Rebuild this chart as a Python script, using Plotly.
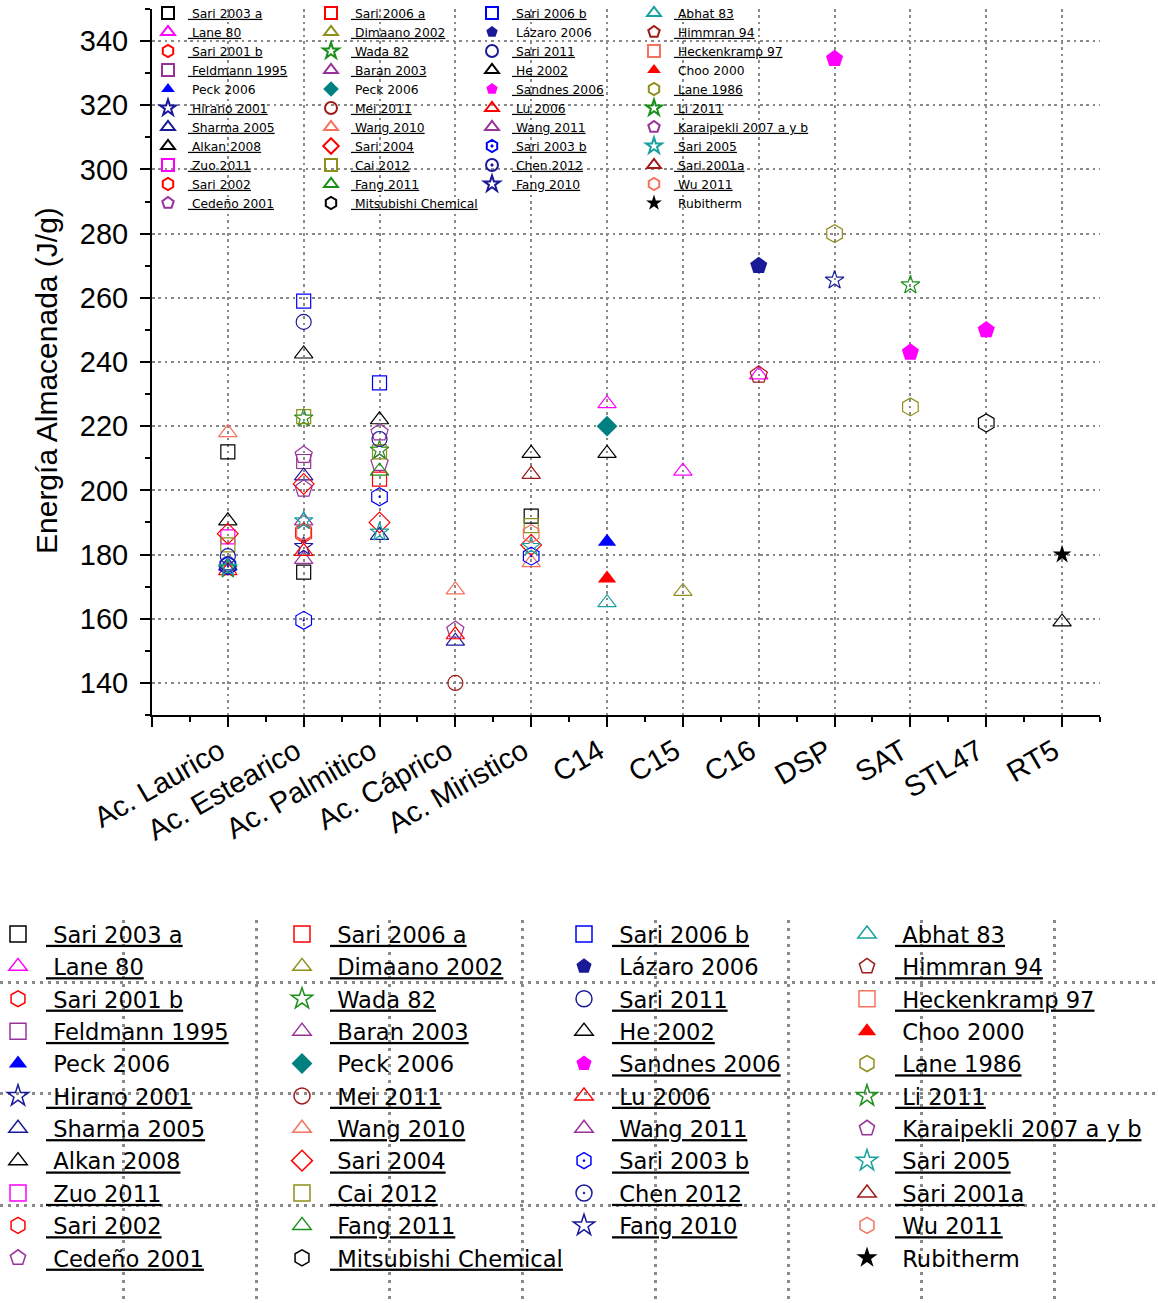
import plotly.graph_objects as go

# ---------------- data ----------------
categories = ["Ac. Laurico", "Ac. Estearico", "Ac. Palmitico", "Ac. Cáprico", "Ac. Miristico",
              "C14", "C15", "C16", "DSP", "SAT", "STL47", "RT5"]

sari_2003_a = {"Ac. Laurico": 212, "Ac. Estearico": 174.5, "Ac. Miristico": 192}
lane_80 = {"C14": 227, "C15": 206, "C16": 236}
sari_2001_b = {"Ac. Estearico": 187}
feldmann_1995 = {"Ac. Estearico": 209}
peck_2006_a = {"C14": 184}
hirano_2001 = {"Ac. Estearico": 182.5}
sharma_2005 = {"Ac. Laurico": 176.5, "Ac. Estearico": 204.5, "Ac. Palmitico": 186, "Ac. Cáprico": 153}
alkan_2008 = {"Ac. Laurico": 190.5, "Ac. Estearico": 242.5, "Ac. Palmitico": 222, "Ac. Miristico": 211.5}
zuo_2011 = {"Ac. Laurico": 185.5}
sari_2002 = {"Ac. Estearico": 186.5}
cedeno_2001 = {"Ac. Estearico": 211, "Ac. Palmitico": 208.5, "Ac. Cáprico": 156.5}
sari_2006_a = {"Ac. Palmitico": 203.5}
dimaano_2002 = {"C15": 168.5}
wada_82 = {"Ac. Laurico": 175.5, "Ac. Estearico": 222.5, "Ac. Palmitico": 212.5}
baran_2003 = {"Ac. Estearico": 178.5}
peck_2006_b = {"C14": 220}
mei_2011 = {"Ac. Cáprico": 140}
wang_2010 = {"Ac. Laurico": 218, "Ac. Cáprico": 169, "Ac. Miristico": 177.5}
sari_2004 = {"Ac. Laurico": 186.5, "Ac. Estearico": 202, "Ac. Palmitico": 190, "Ac. Miristico": 183}
cai_2012 = {"Ac. Laurico": 183, "Ac. Estearico": 223, "Ac. Palmitico": 212, "Ac. Miristico": 189}
fang_2011 = {"Ac. Palmitico": 206}
mitsubishi = {"STL47": 221}
sari_2006_b = {"Ac. Estearico": 259, "Ac. Palmitico": 233.5}
lazaro_2006 = {"C16": 270}
sari_2011 = {"Ac. Laurico": 179.5, "Ac. Estearico": 252.5, "Ac. Palmitico": 216}
he_2002 = {"C14": 211.5, "RT5": 159}
sandnes_2006 = {"DSP": 334.5, "SAT": 243, "STL47": 250}
lu_2006 = {"Ac. Laurico": 175, "Ac. Estearico": 181, "Ac. Cáprico": 155}
wang_2011 = {"Ac. Estearico": 190.5}
sari_2003_b = {"Ac. Laurico": 176.5, "Ac. Estearico": 159.5, "Ac. Palmitico": 198, "Ac. Miristico": 179.5}
chen_2012 = {"Ac. Laurico": 177}
fang_2010 = {"DSP": 265.5}
abhat_83 = {"C14": 165}
himmran_94 = {"C16": 236}
heckenkramp_97 = {"Ac. Estearico": 187}
choo_2000 = {"C14": 172.5}
lane_1986 = {"DSP": 280, "SAT": 226}
li_2011 = {"SAT": 264}
karaipekli_2007 = {"Ac. Estearico": 200.5, "Ac. Palmitico": 218}
sari_2005 = {"Ac. Laurico": 176, "Ac. Estearico": 190.5, "Ac. Palmitico": 187, "Ac. Miristico": 182.5}
sari_2001a = {"Ac. Miristico": 205}
wu_2011 = {"Ac. Miristico": 186.5}
rubitherm = {"RT5": 180}

series_names = [
    "Sari 2003 a", "Lane 80", "Sari 2001 b", "Feldmann 1995", "Peck 2006", "Hirano 2001",
    "Sharma 2005", "Alkan 2008", "Zuo 2011", "Sari 2002", "Cedeño 2001",
    "Sari 2006 a", "Dimaano 2002", "Wada 82", "Baran 2003", "Peck 2006", "Mei 2011",
    "Wang 2010", "Sari 2004", "Cai 2012", "Fang 2011", "Mitsubishi Chemical",
    "Sari 2006 b", "Lázaro 2006", "Sari 2011", "He 2002", "Sandnes 2006", "Lu 2006",
    "Wang 2011", "Sari 2003 b", "Chen 2012", "Fang 2010",
    "Abhat 83", "Himmran 94", "Heckenkramp 97", "Choo 2000", "Lane 1986", "Li 2011",
    "Karaipekli 2007 a y b", "Sari 2005", "Sari 2001a", "Wu 2011", "Rubitherm",
]
series_values = [
    sari_2003_a, lane_80, sari_2001_b, feldmann_1995, peck_2006_a, hirano_2001,
    sharma_2005, alkan_2008, zuo_2011, sari_2002, cedeno_2001,
    sari_2006_a, dimaano_2002, wada_82, baran_2003, peck_2006_b, mei_2011,
    wang_2010, sari_2004, cai_2012, fang_2011, mitsubishi,
    sari_2006_b, lazaro_2006, sari_2011, he_2002, sandnes_2006, lu_2006,
    wang_2011, sari_2003_b, chen_2012, fang_2010,
    abhat_83, himmran_94, heckenkramp_97, choo_2000, lane_1986, li_2011,
    karaipekli_2007, sari_2005, sari_2001a, wu_2011, rubitherm,
]
column_counts = [11, 11, 10, 11]

# ---------------- styles ----------------
BLACK, MAGENTA, RED, PURPLE = "#000000", "#FF00FF", "#FF0000", "#993399"
BLUE, NAVY, OLIVE, GREEN = "#0000FF", "#1A1A99", "#8F8F1A", "#1A901A"
TEAL, WINE, SALMON, LTEAL = "#008080", "#A01A1A", "#F4725E", "#1AA0A0"

symbols = [
    "square-open", "triangle-up-open", "hexagon-open", "square-open", "triangle-up", "star-open",
    "triangle-up-open", "triangle-up-open", "square-open", "hexagon-open", "pentagon-open",
    "square-open", "triangle-up-open", "star-open", "triangle-up-open", "diamond", "circle-open",
    "triangle-up-open", "diamond-open", "square-open", "triangle-up-open", "hexagon-open",
    "square-open", "pentagon", "circle-open", "triangle-up-open", "pentagon", "triangle-up-open",
    "triangle-up-open", "hexagon-open-dot", "circle-open-dot", "star-open",
    "triangle-up-open", "pentagon-open", "square-open", "triangle-up", "hexagon-open", "star-open",
    "pentagon-open", "star-open", "triangle-up-open", "hexagon-open", "star",
]
colors = [
    BLACK, MAGENTA, RED, PURPLE, BLUE, NAVY, NAVY, BLACK, MAGENTA, RED, PURPLE,
    RED, OLIVE, GREEN, PURPLE, TEAL, WINE, SALMON, RED, OLIVE, GREEN, BLACK,
    BLUE, NAVY, NAVY, BLACK, MAGENTA, RED, PURPLE, BLUE, NAVY, NAVY,
    LTEAL, WINE, SALMON, RED, OLIVE, GREEN, PURPLE, LTEAL, WINE, SALMON, BLACK,
]
not_underlined = {4, 15, 23, 35, 42}
base_size = {"square": 14, "triangle-up": 16, "hexagon": 18, "pentagon": 18,
             "star": 14, "circle": 15, "diamond": 16}

FONT = "Liberation Sans, Arial, sans-serif"
LEG_FONT = "DejaVu Sans, Liberation Sans, sans-serif"
W, H = 1158, 1303

fig = go.Figure()

col_of = []
for c, n in enumerate(column_counts):
    col_of += [c] * n

for i, (name, vals) in enumerate(zip(series_names, series_values)):
    xs = [categories.index(c) for c in vals]
    ys = list(vals.values())
    sym = symbols[i]
    base = sym.replace("-open-dot", "").replace("-open", "")
    is_open = "open" in sym
    label = ("\u00a0" + name) if i in not_underlined else ("<u>\u00a0" + name + "</u>")
    col = col_of[i]
    for dup in (False, True):
        marker = dict(symbol=sym, color=colors[i],
                      size=(24 if dup else base_size[base]),
                      line=dict(color=colors[i], width=(1.5 if dup else 1.2) if is_open else 0))
        fig.add_trace(go.Scatter(
            x=xs, y=ys, mode="markers", name=label, marker=marker,
            xaxis="x2" if dup else "x", yaxis="y2" if dup else "y",
            legend=("legend%d" % (col + 5)) if dup else ("legend" if col == 0 else "legend%d" % (col + 1)),
            hoverinfo="skip" if dup else None,
        ))

grid_dash = "2.5px,3.9px"
grid_col = "#8a8a8a"

layout = dict(
    width=W, height=H,
    margin=dict(l=0, r=0, t=0, b=0, autoexpand=False),
    paper_bgcolor="white", plot_bgcolor="white",
    font=dict(family=FONT, color="black"),
    xaxis=dict(
        domain=[152 / W, 1100 / W], range=[-1, 11.5],
        tickmode="array", tickvals=list(range(-1, 12)), ticktext=[""] + categories,
        tickangle=-30, tickfont=dict(size=29, family=FONT, color="black"),
        ticks="outside", ticklen=10, tickwidth=2, tickcolor="black",
        ticklabelshift=-8, ticklabelstandoff=-4,
        minor=dict(tick0=-0.5, dtick=1, ticks="outside", ticklen=5, tickwidth=2, tickcolor="black"),
        showline=True, linecolor="black", linewidth=2,
        showgrid=True, gridcolor=grid_col, gridwidth=2, griddash=grid_dash,
        zeroline=False, anchor="y", fixedrange=True,
    ),
    yaxis=dict(
        domain=[(H - 715) / H, (H - 9) / H], range=[130, 350],
        tick0=0, dtick=20, tickfont=dict(size=29, family=FONT, color="black"),
        ticks="outside", ticklen=10, tickwidth=2, tickcolor="black", ticklabelstandoff=6,
        minor=dict(tick0=0, dtick=10, ticks="outside", ticklen=5, tickwidth=2, tickcolor="black"),
        showline=True, linecolor="black", linewidth=2,
        showgrid=True, gridcolor=grid_col, gridwidth=2, griddash=grid_dash,
        zeroline=False, anchor="x", fixedrange=True,
    ),
    xaxis2=dict(
        domain=[0, 1], range=[0, W], anchor="y2",
        tick0=123, dtick=133, showticklabels=False, ticks="",
        showgrid=True, gridcolor=grid_col, gridwidth=3, griddash="3px,5px",
        zeroline=False, showline=False, fixedrange=True,
    ),
    yaxis2=dict(
        domain=[0, (H - 920) / H], range=[H, 920], anchor="x2",
        tick0=982, dtick=111.5, showticklabels=False, ticks="",
        showgrid=True, gridcolor=grid_col, gridwidth=3, griddash="3px,5px",
        zeroline=False, showline=False, fixedrange=True,
    ),
    annotations=[dict(
        text="Energía Almacenada (J/g)", textangle=-90, showarrow=False,
        xref="paper", yref="paper", x=46 / W, y=(H - 381) / H,
        xanchor="center", yanchor="middle", font=dict(size=30, family=FONT, color="black"),
    )],
)

top_left = [148, 311, 472, 634]
bottom_left = [-10, 274, 556, 839]
for k in range(4):
    key = "legend" if k == 0 else "legend%d" % (k + 1)
    layout[key] = dict(
        x=top_left[k] / W, y=(H + 1.5) / H, xanchor="left", yanchor="top",
        bgcolor="rgba(0,0,0,0)", borderwidth=0, orientation="v",
        font=dict(size=12.3, family=LEG_FONT, color="black"),
        itemwidth=30, itemsizing="constant", tracegroupgap=0,
    )
    layout["legend%d" % (k + 5)] = dict(
        x=bottom_left[k] / W, y=(H - 912.8) / H, xanchor="left", yanchor="top",
        bgcolor="rgba(0,0,0,0)", borderwidth=0, orientation="v",
        font=dict(size=22.6, family=LEG_FONT, color="black"),
        itemwidth=46, itemsizing="trace", tracegroupgap=0,
    )

fig.update_layout(**layout)
fig.write_html("out.html", config={"displayModeBar": False})
